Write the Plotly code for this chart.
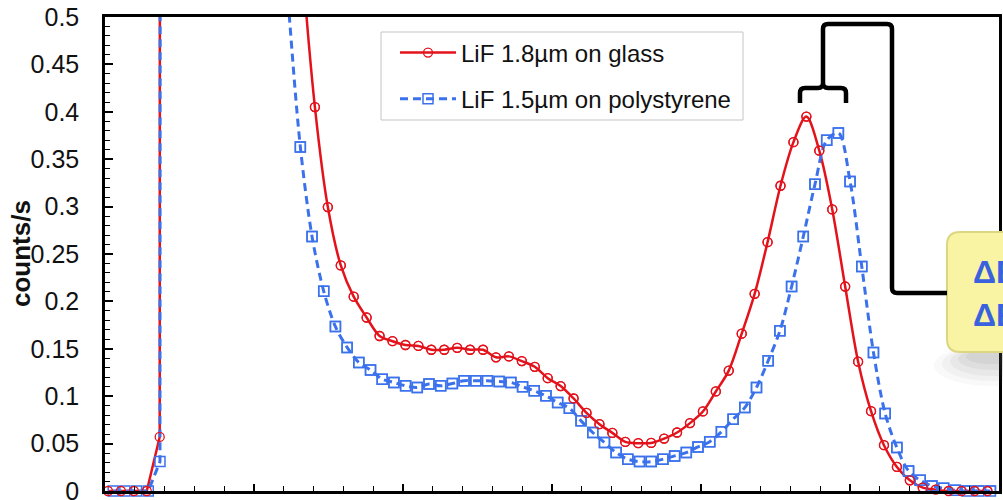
import numpy as np
import plotly.graph_objects as go

# ---------------- data ----------------
# x axis: channel-like units, axis 0..6 (tick labels not visible in the reference)
red_x0, red_dx = 0.02, 0.0868      # sampling of the glass series
blue_x0, blue_dx = 0.055, 0.0785   # sampling of the polystyrene series

red_counts = [0, 0, 0, 0, 0.057,
              40, 30, 20, 12, 7, 4, 2.5, 1.6, 1.1, 0.76, 0.56,
              0.405, 0.2995, 0.238, 0.205, 0.183, 0.1635, 0.158, 0.154, 0.153, 0.149,
              0.149, 0.151, 0.149, 0.149,
              0.141, 0.142, 0.137, 0.131, 0.119, 0.1107, 0.0976, 0.0824, 0.0705, 0.0613,
              0.0518, 0.0504, 0.0507, 0.0553,
              0.0617, 0.0716, 0.0839, 0.105, 0.127, 0.166, 0.208, 0.2625, 0.322, 0.368,
              0.395, 0.359, 0.297, 0.2157, 0.1364,
              0.0842, 0.0483, 0.0254, 0.0113, 0.0035, 0.0014, 0, 0, 0, 0]

blue_counts = [0, 0, 0, 0, 0.031,
               30, 22, 15, 9, 5.5, 3.3, 2.1, 1.4, 0.95, 0.68, 0.51,
               0.363, 0.2685, 0.2107, 0.1734, 0.1515, 0.1356, 0.1276, 0.118, 0.1145, 0.111,
               0.1092, 0.1128, 0.111, 0.1134, 0.1163, 0.1163, 0.1163, 0.1155, 0.1145, 0.11,
               0.1057, 0.1004, 0.0934, 0.0874, 0.074, 0.0617, 0.0511, 0.0405, 0.0335, 0.031,
               0.031, 0.0335,
               0.037, 0.0405, 0.0465, 0.052, 0.0624, 0.0758, 0.088, 0.1092, 0.1374, 0.169,
               0.2157,
               0.2685, 0.3235, 0.37, 0.3777, 0.3266,
               0.2368, 0.1462, 0.0817, 0.0458, 0.0211, 0.0113, 0.0053, 0.0029, 0.0007, 0, 0, 0]

red_name = "LiF 1.8\u00b5m on glass"
blue_name = "LiF 1.5\u00b5m on polystyrene"
y_title = "counts/s"
callout_lines = ["\u0394E", "\u0394E"]

EDGE = 5  # index of the first point past the steep rising edge

red_x = [red_x0 + red_dx * i for i in range(len(red_counts))]
blue_x = [blue_x0 + blue_dx * i for i in range(len(blue_counts))]

RED = "#E3121B"
BLUE = "#3B72EC"
FONT = "Liberation Sans, Arial, sans-serif"
YMAX = 0.5

red_marker = dict(symbol="circle-open", size=9, color=RED, line=dict(width=1.3, color=RED))
blue_marker = dict(symbol="square-open", size=10, color=BLUE, line=dict(width=1.5, color=BLUE))

fig = go.Figure()

# steep rising edge drawn straight, rest smoothed
fig.add_trace(go.Scatter(x=red_x[:EDGE + 1], y=red_counts[:EDGE + 1], mode="lines",
                         line=dict(color=RED, width=2.5), showlegend=False, hoverinfo="skip"))
fig.add_trace(go.Scatter(x=blue_x[:EDGE + 1], y=blue_counts[:EDGE + 1], mode="lines",
                         line=dict(color=BLUE, width=3, dash="8px,5px"), showlegend=False,
                         hoverinfo="skip"))
fig.add_trace(go.Scatter(
    x=red_x[EDGE:], y=red_counts[EDGE:], name=red_name, mode="lines+markers",
    line=dict(color=RED, width=2.5, shape="spline", smoothing=0.9),
    marker=red_marker, legendgroup="a"))
fig.add_trace(go.Scatter(
    x=blue_x[EDGE:], y=blue_counts[EDGE:], name=blue_name, mode="lines+markers",
    line=dict(color=BLUE, width=3, dash="8px,5px", shape="spline", smoothing=0.9),
    marker=blue_marker, legendgroup="b"))

# unclipped markers for the in-range points (so markers on the axis are whole)
bx = [x for x, y in zip(blue_x, blue_counts) if y <= YMAX]
by = [y for y in blue_counts if y <= YMAX]
rx = [x for x, y in zip(red_x, red_counts) if y <= YMAX]
ry = [y for y in red_counts if y <= YMAX]
fig.add_trace(go.Scatter(x=bx, y=by, mode="markers", showlegend=False, cliponaxis=False,
                         marker=blue_marker, hoverinfo="skip"))
fig.add_trace(go.Scatter(x=rx, y=ry, mode="markers", showlegend=False, cliponaxis=False,
                         marker=red_marker, hoverinfo="skip"))

# ------------- layout geometry (pixels) --------------
W, H = 1003, 500
L, R, T, B = 105, 999, 17, 491


def px(x):
    return (x - L) / (R - L)


def py(y):
    return (B - y) / (B - T)


def path(cmds):
    out = []
    for c in cmds:
        op = c[0]
        pts = c[1:]
        coords = " ".join(f"{px(pts[k]):.5f},{py(pts[k+1]):.5f}" for k in range(0, len(pts), 2))
        out.append(f"{op} {coords}")
    return " ".join(out)


shapes = []
# legend frame
shapes.append(dict(type="rect", xref="paper", yref="paper", x0=px(381), x1=px(743),
                   y0=py(120), y1=py(32), fillcolor="white",
                   line=dict(color="#C4C4C4", width=1), layer="below"))
# shadow under callout
for rxr, ryr, op in [(58, 34, 0.04), (50, 29, 0.05), (42, 24, 0.06), (34, 18, 0.07), (26, 12, 0.08)]:
    cx, cy = 992, 352
    shapes.append(dict(type="circle", xref="paper", yref="paper",
                       x0=px(cx - rxr), x1=px(cx + rxr), y0=py(cy - ryr * 0.2), y1=py(cy + ryr),
                       fillcolor="#666666", opacity=op, line=dict(width=0), layer="above"))
# callout box (rounded)
x0b, x1b, y0b, y1b, rr = 947, 1040, 232, 352, 13
box = path([("M", x0b + rr, y0b), ("L", x1b - rr, y0b), ("Q", x1b, y0b, x1b, y0b + rr),
            ("L", x1b, y1b - rr), ("Q", x1b, y1b, x1b - rr, y1b), ("L", x0b + rr, y1b),
            ("Q", x0b, y1b, x0b, y1b - rr), ("L", x0b, y0b + rr), ("Q", x0b, y0b, x0b + rr, y0b)]) + " Z"
shapes.append(dict(type="path", xref="paper", yref="paper", path=box,
                   fillcolor="#F8F4A4", line=dict(color="#DCD680", width=2), layer="above"))
# bracket + connector
br = path([("M", 800, 103), ("L", 800, 93), ("Q", 800, 88, 805, 88), ("L", 818, 88),
           ("Q", 823, 88, 823, 83),
           ("M", 846, 103), ("L", 846, 93), ("Q", 846, 88, 841, 88), ("L", 828, 88),
           ("Q", 823, 88, 823, 83),
           ("L", 823, 29), ("Q", 823, 24, 828, 24), ("L", 887, 24), ("Q", 892, 24, 892, 29),
           ("L", 892, 288), ("Q", 892, 293, 897, 293), ("L", 947, 293)])
shapes.append(dict(type="path", xref="paper", yref="paper", path=br,
                   line=dict(color="black", width=4.5), layer="above"))

annotations = []
for txt, yy in zip(callout_lines, [272, 315]):
    annotations.append(dict(xref="paper", yref="paper", x=px(971), y=py(yy), xanchor="left",
                            yanchor="middle", text=f"<b>{txt}</b>", showarrow=False,
                            font=dict(family=FONT, size=32, color="#3A62DE")))
# y-axis title
annotations.append(dict(xref="paper", yref="paper", x=px(21), y=py(254), xanchor="center",
                        yanchor="middle", text=f"<b>{y_title}</b>", textangle=-90,
                        showarrow=False, font=dict(family=FONT, size=26, color="#111111")))

fig.update_layout(
    width=W, height=H, margin=dict(l=L, r=W - R, t=T, b=H - B),
    paper_bgcolor="white", plot_bgcolor="white",
    font=dict(family=FONT, color="#111111"),
    showlegend=True,
    legend=dict(x=px(395), y=py(30.5), xanchor="left", yanchor="top",
                bgcolor="rgba(0,0,0,0)", borderwidth=0,
                font=dict(family=FONT, size=24, color="#111111"),
                itemwidth=56, tracegroupgap=12),
    shapes=shapes, annotations=annotations,
)
fig.update_xaxes(range=[0, 6], dtick=1, tick0=0, ticks="inside", ticklen=7, tickwidth=1.5,
                 tickcolor="black", showticklabels=False, automargin=False,
                 minor=dict(dtick=0.2, ticks="inside", ticklen=5, tickwidth=1.3, tickcolor="black"),
                 showline=True, linecolor="black", linewidth=2.5, mirror=True,
                 showgrid=False, zeroline=False)
fig.update_yaxes(range=[0, YMAX], dtick=0.05, tick0=0, ticks="inside", ticklen=8, tickwidth=1.5,
                 tickcolor="black", automargin=False, ticklabeloverflow="allow",
                 minor=dict(dtick=0.01, ticks="inside", ticklen=5, tickwidth=1.3, tickcolor="black"),
                 showline=True, linecolor="black", linewidth=2.5, mirror=True,
                 showgrid=False, zeroline=False, ticklabelstandoff=18,
                 tickfont=dict(family=FONT, size=25, color="#111111"))

fig.write_html("out.html", config={"displayModeBar": False},
               post_script="document.body.style.margin='0px';")
